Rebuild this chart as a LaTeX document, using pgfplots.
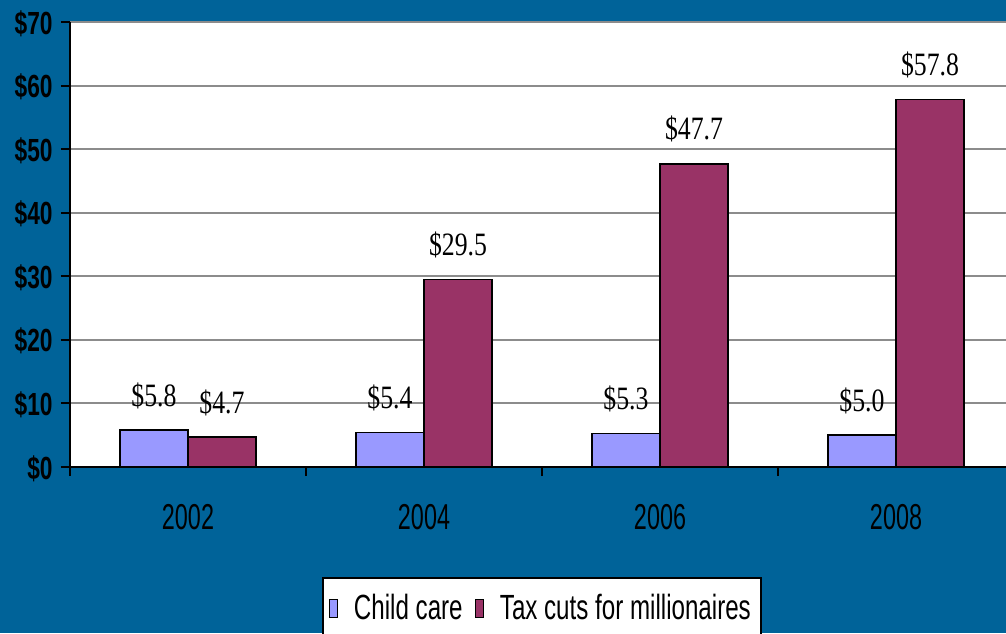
\documentclass[border=0pt]{standalone}
\usepackage{fontspec}
\setmainfont{Liberation Sans}
\newfontfamily\serifnum{Liberation Serif}
\usepackage{graphicx}
\usepackage{pgfplots}
\pgfplotsset{compat=1.18}
\definecolor{bgblue}{RGB}{0,99,153}
\definecolor{childc}{RGB}{153,153,255}
\definecolor{taxc}{RGB}{153,51,102}
\definecolor{gridc}{RGB}{140,140,140}
\newcommand\ylab[1]{\scalebox{0.71}[1]{\fontsize{16}{16}\selectfont\bfseries #1}}
\newcommand\xlab[1]{\scalebox{0.65}[1]{\fontsize{18}{18}\selectfont #1}}
\newcommand\dlab[1]{\scalebox{0.79}[1]{\fontsize{16.3}{16}\selectfont\serifnum #1}}
\newcommand\llab[1]{\scalebox{0.69}[1]{\fontsize{17.5}{18}\selectfont #1}}
\begin{document}
\begin{tikzpicture}
\fill[bgblue] (0,0) rectangle (503pt,316.5pt);
\useasboundingbox (0,0) rectangle (503pt,316.5pt);
\clip (0,0) rectangle (503pt,316.5pt);
\begin{axis}[
  at={(35pt,83pt)}, anchor=south west,
  scale only axis, width=468pt, height=222.5pt,
  xmin=-0.5, xmax=3.466, ymin=0, ymax=70,
  axis background/.style={fill=white},
  axis x line*=bottom, axis y line*=left,
  axis line style={-, black, line width=1pt},
  tick align=outside,
  major tick length=4.5pt,
  tick style={black, line width=1pt},
  ytick={0,10,...,70},
  yticklabels={\ylab{\$0},\ylab{\$10},\ylab{\$20},\ylab{\$30},\ylab{\$40},\ylab{\$50},\ylab{\$60},\ylab{\$70}},
  yticklabel style={anchor=base east, inner sep=0pt, yshift=-6pt, xshift=-4pt},
  ymajorgrids, grid style={gridc, line width=1pt},
  xtick={-0.5,0.5,1.5,2.5}, xticklabels={},
  extra x ticks={0,1,2,3},
  extra x tick labels={\xlab{2002},\xlab{2004},\xlab{2006},\xlab{2008}},
  extra x tick style={major tick length=0pt, tick label style={anchor=base, inner sep=0pt, yshift=-31pt}},
  ybar=0pt, bar width=34pt,
  point meta=explicit symbolic,
  nodes near coords={\dlab{\$\pgfplotspointmeta}},
  every node near coord/.append style={anchor=base, inner sep=0pt, yshift=12pt, black},
  legend columns=2,
  legend style={at={(0.269,-0.247)}, anchor=north west, draw=black, line width=1pt, fill=white,
    inner xsep=3pt, inner ysep=6pt,
    /tikz/every odd column/.append style={column sep=6pt},
    /tikz/every even column/.append style={column sep=4pt}},
  legend image code/.code={\draw[#1, draw=black, line width=0.6pt] (0pt,-4.5pt) rectangle (4pt,4.5pt);},
]
\addplot[fill=childc, draw=black, line width=0.75pt] coordinates {(0,5.8)[5.8] (1,5.4)[5.4] (2,5.3)[5.3] (3,5.0)[5.0]};
\addlegendentry{\llab{Child care}}
\addplot[fill=taxc, draw=black, line width=0.75pt] coordinates {(0,4.7)[4.7] (1,29.5)[29.5] (2,47.7)[47.7] (3,57.8)[57.8]};
\addlegendentry{\llab{Tax cuts for millionaires}}
\end{axis}
\end{tikzpicture}
\end{document}
